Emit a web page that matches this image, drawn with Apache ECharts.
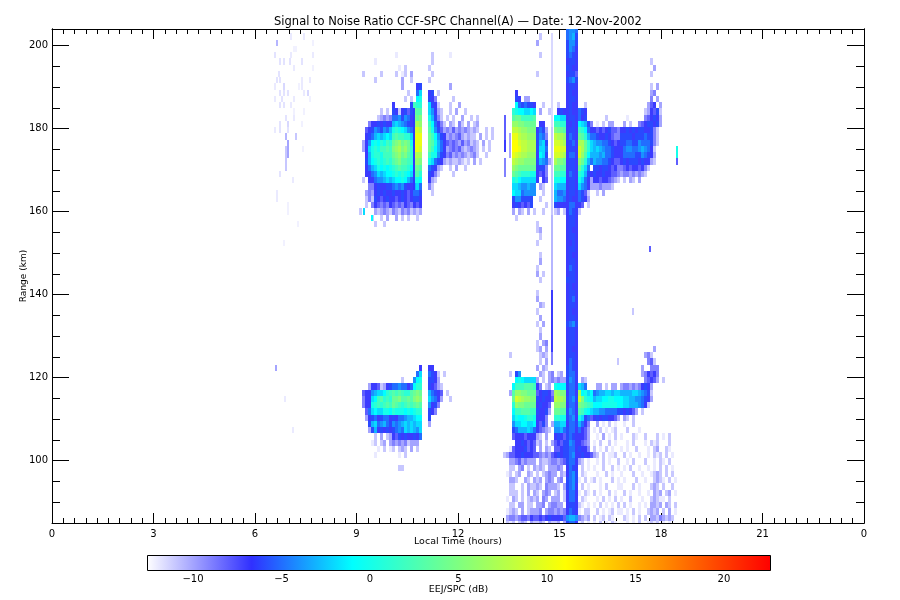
<!DOCTYPE html>
<html><head><meta charset="utf-8">
<script src="https://cdn.jsdelivr.net/npm/echarts@6/dist/echarts.min.js"></script>
<style>html,body{margin:0;padding:0;background:#fff}#c{width:900px;height:600px}</style></head>
<body><div id="c"></div>
<script>
// ---- scales and ticks
const timeTickLabels = ['0','3','6','9','12','15','18','21','0'];
const rangeLabels = [100,120,140,160,180,200];
const rangeMinor = [90,95,105,110,115,125,130,135,145,150,155,165,170,175,185,190,195];
const colorbarLabels = [-10,-5,0,5,10,15,20];
const colorStops = [[-12.6,'#ffffff'],[-6.7,'#3030ff'],[-1,'#00ffff'],[11,'#ffff00'],[16.5,'#ff8c00'],[22.6,'#ff0000']];
const colorbarSpan = [-12.6,22.6];
// ---- level letters (dB)
const levelCodes = 'abcdefghijklmnopqrstuvwxy';
const levelDb = [-12,-11,-10,-9,-8,-7,-6,-5,-4,-3,-2,-1,0,1,2,3,4,5,6,7,8,9,10,11,12];
// ---- grid of the range-time picture
const columnHours = 0.08868;
const gateTopKm = 85.5, gateKm = 1.506;
// ---- morning block: first column hour, segment start columns, rows from the top gate down
const morningStartHour = 8.986;
const morningSegments = [0,5,12,19,22,24,30];
const morningUpperTop = 75;
const morningUpper = [
". . .a . . .b .a",
". .a . . . .b",
". . ..a.b . . b",
"..b ...b .b.ab.c . . .b",
". .b ...c..b . . b . ..b",
". . ...c... .fg . . .c",
". . .....b. .hk . fg.b",
". . ....b.b .lm . gfd ..b",
". . f.....g onn . kgfb .b..c",
". ...b.b. gfbfgeg qpp . kifcb .b.c..b",
". ..bcdcd hhigihf rqr . mjgdb b.b..c..b.b",
"....d ffgfgff jkjihgf sts . olhfdb .cb.db.c.bc",
"...ef gihgihj mnmlkih vvu . pmigec dcecdcdcbcb..b.b",
"...fg hjkjklk opoonnk www . qoligf cdcdecbcbb.c.b.b",
"..cfi lmlnmon qrsqrqm xww . qpmjhf ededcecdbcb.c.b",
"..cfk mnmoopo rstrsqn wwv . qoljhf cdedecbcdcb.b.b",
"...fj mnnmooo qrsqrpn utt . ommigf decdcdcbcdb..b",
"...gj lmnmnon pqrppon ssr . mkhgfc bcbbcbab.c.b",
"...fh jkmlmlm nopoonl qqp . hgfcb .b.c..b",
"...ff hikjkll mnmnmlk ppn . gfdb ..b",
"..b.f fhiijkj kllmljh mml . fcb",
"....d dfgffgg hihigff jkh . db",
"...cd cfgfgff gffgfef hhg . .b",
"...bd bgfefgf fefgfef ggf",
"...b. dfededf ededfed fef",
".b .cbcdcb dcbdcdb cbc",
". b..b.c. .c.b.b .b",
". .b..b"
];
const morningLowerTop = 25;
const morningLower = [
". . . ..f . ff",
". . . .hk . hgfb.b",
". . ...b ilm . ggfc",
"....c ffebcfg hhihhfh lnn . gfecb",
"..eff ijkklno poponnp qrq . jhgfe b",
"..dff klopnon qqrppqp rsr . kihfc .b",
"..dff mnonopo qponopo pqp . ifgd",
"...eh klkkmml nmmmlml mnn . gfd",
"...cf ghfghhf gfhhijj kll . g",
"....g jkhijhg ihijkjk jkk . c",
"....c gjfgfgf ghihkjk jik",
". .b.c.bc fegfgff gfh",
". ab.bc.c dcdcdbc cc.",
". ..a.b.a b.bcb.c .b",
". .a ..a.b",
". . .",
". . ..bb"
];
// ---- afternoon block
const afternoonStartHour = 13.243;
const afternoonSegments = [0,4,12,18,22,26,31,40,54];
const afternoonTop = 79;
const afternoon = [
". . . . hiih",
". . .b . hijg",
". . c . giig",
". . . . gihf",
". . .b . ghgf",
". . . . fggf . . ..........b",
". . . . ggff . . ...........c",
". . b . fgge . . ..........b",
". . . . ghig",
". . . . fggf . . ..........b.c",
". .f . . fgff . . ..........cd",
". .gf.cc . . fggf . . ..........d.c",
". .lhghggf ..b .b fgff ..b . .........cef.c",
". nmllkklk .c..b .fgf fgff hgf . ........bcfegb",
". pqqoooop . llkk fggf hfg ....b ..a.....defgfc",
". ssrrqqqq .ff. oonn ffgf lkjgd .a.b.cc.. .c.b..defggfgc",
". uutssrrr fhgc rqqp fggf onlhf fefefgeed ffgfgfggffgdb",
". wwuttsss gihd utts fhgf qpnjh hgffgfedd ggggfggghggdb",
". xxvuuttt gjkg vvut fghf ttqnk jiihhgfef gghhggihhhgdb",
". xxwuuttt gkkh wwvv fggf vtqnk jkjihhgff fhiihhijihfb",
". wvuttsss flkg vvut fhhf vsplj jjijhhgff fhhhhggihgfc",
". utssrrrr gjihc trrq fggf sqnjh jiihhgfee fgfgggfgffcb",
". srqqqqqq fggd qqpp fggf qnkh. ggfggfefd defeffefdb",
". qponnnmm fefd oonn fhgf nmjgf gffgffeed cddcdcdcb",
". mnlkkkkk f.fe mmll fggf mkhfc ffeffedcb .b.cb.c",
". kkjiijii .cb kjjj fggf kihfc ccdcccb. ..",
". lkkhiiii ..b jhhi fggf hgeb .b.c",
". giigggg. .b jiih fgff hgfc",
". fgfefeg. ...b gfff fhhf fe.b",
". c.cb.c.b ..b bc.b fhgf b",
". .b.. . . fggf",
". . b . fggf",
". . bc . fgff",
". . .b . fggf",
". . b . ffgf",
". . . . fggf",
". . .b . fgff",
". . .c . fggf",
". . b . fhgf",
". . c.b . fggf",
". . .b . gggf",
". . . . fgff",
". . b . fggf",
". . c . fghf",
". . .cb . fggf",
". . b . fgff",
". . .c . fggf",
". . b.c . ghig",
". . .b . fggf",
". . .c . fggf",
". . b.cd . fggf",
". . bc.c . fgff . . ...........c",
"...b . .bcb . fggf . . ........cdb",
". . .b.c . fhgf . . .........deb",
". . c.cb . ghgf . . .......c..ddd",
"...b .gi.. .cb.cd .bc ghhf .. . .......cdfefd",
". .lmlkkkk c.b.cd cdcc gihf .cb . ........defec.b",
". looopppo fd.bc. mlll ghhf kjh.. .cc.b.cc. cddcdcdfgfc",
"...c pssrrqqq efggfd tsrr fhhf tlmkl hijjkkjkk jjjjkkjihgb",
". qvutssrr gfgffe utts ghig vrnml jkkllmmll lkkjjiihgfc",
". nsrrqqqq fgffe. ssrr fhhf rqpon lllmmmmml lkkjjjihfb",
". loopppoo gffgc. qqpp gihf pomlk jjiihhhhg gfgfec.b",
". kmllmnnm fffd.. nnmm ghif mkghe fgfggffec .cb.b",
". ikkllkkl fegd.c jjkk fhhg jhfd. .c.a.b.a. .a..b",
". ghjjjkjh fedcb. iijh ghhf hfec. a.b.a.ab. ..b...a",
". efffefff cb.c.. fgfe ghgf ffec. .a.c.a.b. a...ba..b...b a.b",
". .ffgfefe bc.b.c efeg gihf fedc. a.b..b.a. ..a.b...a.bab ..b",
"...a efffgefe .c.cb. eefg ghhf gffd. b.a.b.a.. a.a..b...a.bc .ba",
".bce effgfffe edcdce fgfg ghif fgffe cb.b.aab. .b.a..a..a.bab .b.a",
"...c cdecdccc .cbbcd dcde ghhf cb.a. .a.b.a..b ..a.b...b..a.b a.b",
"...b b.cd.b.c bcb.cc cdc. fhgf .b.a. a..b..b.a .a.b..a..a.a.b .b.a",
"..ab .bc..cb. b.bcdc c.cb fhig .ba.. .a..b.a.. a...b..a..abcb .b.b",
"...c cb..cb.c bc.cdc .cd. ghig a.b.a b.a...b.a .a...b..a..bcb a.b.a",
"...b b..b.cbb cb.dcc cb.c ghif .b.a. ..a.b...a a...b.a...bcb b..b",
"...b bb.b.c.c b.cdc. bc.b fhhf a.ba. b.a..b.a. .b.a..a..a.cbc .bc.a",
"..a. cb.b.bcb c.dc.c cc.b fhhf .ba.. .a.b.a.b. a..b...a..bcba a.b",
"...b b.cc.bb. ccd.cd dcc. fggf ba.a. a.b.a.a.b .b.a..a.a.ccbc .cb.b",
"..ab cb.c.bcc cd.cdd cdcd fhgf a.bb. .b.a.ab.a a.a.b.a..bcbc b.c.a",
"..cd dcdeedfe efefgf ffge ijji dcbc. b.ab.ba.. .ba.a.b.b.ccbd cbcb",
"..ba b.bcb.cb bcb.cb bc.c ghhf ab.a. a.b.a.ba. ..a.a.b..abab a.a"
];
// ---- thin streaks: [hour, dB, lowest gate, highest gate]
const streakPixels = 2/33.83;
const fineStreaks = [
[6.62,-10.5,77,77],[7.02,-12,78,78],[7.43,-12,78,78],[7.68,-12.2,77,77],[7.11,-12.2,76,76],[7.19,-12.2,76,76],
[6.56,-11.8,75,75],[7.02,-12,75,75],[7.68,-12,75,75],[6.72,-11.8,74,74],[6.82,-11.8,74,74],[7.0,-11.8,74,74],[7.36,-11.8,74,74],
[7.11,-12,73,73],[7.68,-12.2,73,73],[6.67,-11.8,72,72],[6.62,-11.8,71,71],[6.72,-11.8,71,71],[7.36,-12,71,71],[7.61,-12,71,71],
[6.82,-11.5,70,70],[6.56,-12,70,70],[7.27,-12.2,70,70],[7.36,-12,70,70],[6.72,-11.8,69,69],[6.82,-11.8,69,69],[6.96,-11.8,69,69],
[7.43,-12,69,69],[7.53,-11.5,69,69],[6.56,-12,68,68],[6.78,-11.8,68,68],[7.11,-12,68,68],[6.72,-11.8,67,67],[6.82,-11.8,67,67],
[7.02,-12,67,67],[7.11,-12.2,66,66],[7.43,-12.2,66,66],[6.89,-11.8,65,65],[7.11,-12,65,65],[6.72,-11.8,64,64],[6.96,-11.5,64,64],
[7.36,-12.2,64,64],[6.56,-12,63,63],[6.72,-11.8,63,63],[6.96,-11.8,63,63],[6.89,-10.5,62,62],[7.19,-11,62,62],[6.96,-10,59,61],
[6.89,-11,57,60],[6.72,-11.8,56,56],[7.1,-12,55,55],[6.62,-12,52,53],[6.96,-12.2,50,51],[7.25,-12.2,48,48],[6.82,-12.2,45,45],
[6.6,-10,25,25],[6.85,-12,20,20],[7.09,-12,15,15],[7.38,-12.2,60,60],[7.6,-12.2,68,68],
[10.66,-6.5,54,66],[9.2,-2,50,50],[9.42,-1,49,49],
[13.36,-8,62,65],[13.36,-7,60,61],[13.36,-9,56,58],[13.52,-10,59,62],
[14.75,-11.5,64,78],[14.75,-11,50,63],[14.75,-10.5,38,49],[14.75,-7,28,37],[14.75,-9,26,27],
[18.43,0,59,60],[18.43,-8,58,58],[17.65,-8,44,44],[17.15,-11,34,34],[16.7,-11,26,26]
];

// ---- build cells from the lists above
function levelOf(ch){ const i = levelCodes.indexOf(ch); return i < 0 ? null : levelDb[i]; }
function gateSpan(g){ return [gateTopKm + gateKm*g - gateKm, gateTopKm + gateKm*g]; }
const cells = [];
function addRows(rows, topGate, startHour, segments){
  rows.forEach((row, idx) => {
    const gate = topGate - idx;
    const sp = gateSpan(gate);
    row.split(' ').forEach((seg, i) => {
      for (let j = 0; j < seg.length; j++){
        const v = levelOf(seg[j]);
        if (v === null) continue;
        const t0 = startHour + (segments[i] + j)*columnHours;
        cells.push([t0, t0 + columnHours, sp[0], sp[1], v]);
      }
    });
  });
}
addRows(morningUpper, morningUpperTop, morningStartHour, morningSegments);
addRows(morningLower, morningLowerTop, morningStartHour, morningSegments);
addRows(afternoon, afternoonTop, afternoonStartHour, afternoonSegments);
fineStreaks.forEach(s => {
  for (let g = s[2]; g <= s[3]; g++){
    const sp = gateSpan(g);
    cells.push([s[0], s[0] + streakPixels, sp[0], sp[1], s[1]]);
  }
});

function hex(c){ return [1,3,5].map(i => parseInt(c.substr(i,2),16)); }
function colorOf(db){
  for (let i = 0; i < colorStops.length-1; i++){
    const a = colorStops[i], b = colorStops[i+1];
    if (db <= b[0]){
      const f = Math.max(0,(db-a[0])/(b[0]-a[0]));
      const ca = hex(a[1]), cb = hex(b[1]);
      return 'rgb(' + ca.map((v,k)=>Math.round(v+(cb[k]-v)*f)).join(',') + ')';
    }
  }
  return colorStops[colorStops.length-1][1];
}
const chart = echarts.init(document.getElementById('c'), null, {renderer:'canvas'});
const font = {fontFamily:'DejaVu Sans', fontSize:10, color:'#000'};
const nameFont = {fontFamily:'DejaVu Sans', fontSize:9.5, color:'#000'};
const line = {show:true, onZero:false, lineStyle:{color:'#000', width:1}};
const tickStyle = {color:'#000', width:1};
function xAxis(pos, labels){
  return {type:'value', gridIndex:0, position:pos, min:0, max:24, interval:3,
    axisLine:line, splitLine:{show:false},
    axisTick:{show:true, inside:true, length:10, lineStyle:tickStyle},
    minorTick:{show:true, splitNumber:9, length:5, lineStyle:tickStyle},
    axisLabel: labels ? Object.assign({show:true, margin:6, formatter:v => timeTickLabels[v/3]}, font) : {show:false},
    name: labels ? 'Local Time (hours)' : '', nameLocation:'middle', nameGap:14, nameMoveOverlap:false, nameTextStyle:nameFont};
}
function yAxis(pos, values, len, labels){
  return {type:'value', gridIndex:0, position:pos, min:85, max:204,
    axisLine:line, splitLine:{show:false},
    axisTick:{show:true, inside:true, length:len, customValues:values, lineStyle:tickStyle},
    axisLabel: labels ? Object.assign({show:true, margin:4, customValues:values}, font) : {show:false},
    name: labels ? 'Range (km)' : '', nameLocation:'middle', nameGap:24, nameRotate:90, nameMoveOverlap:false,
    nameTextStyle:{fontFamily:'DejaVu Sans', fontSize:9, color:'#000'}};
}
chart.setOption({
  animation:false, backgroundColor:'#fff',
  title:{text:'Signal to Noise Ratio CCF-SPC Channel(A) \u2014 Date: 12-Nov-2002', left:453, top:11, textAlign:'center',
    textStyle:{fontFamily:'DejaVu Sans', fontSize:11.5, fontWeight:'normal', color:'#000'}},
  grid:[{left:52, right:36, top:29, bottom:77, containLabel:false},
        {left:147, width:623, top:555, height:15}],
  xAxis:[xAxis('bottom',true), xAxis('top',false),
    {type:'value', gridIndex:1, min:colorbarSpan[0], max:colorbarSpan[1], position:'bottom',
     axisLine:{show:false}, axisTick:{show:false}, splitLine:{show:false},
     axisLabel:Object.assign({show:true, margin:4, customValues:colorbarLabels, formatter:v => String(v).replace('-','\u2212')}, font),
     name:'EEJ/SPC (dB)', nameLocation:'middle', nameGap:15, nameTextStyle:nameFont}],
  yAxis:[yAxis('left',rangeLabels,17,true), yAxis('left',rangeMinor,8,false),
         yAxis('right',rangeLabels,17,false), yAxis('right',rangeMinor,8,false),
         {type:'value', gridIndex:1, min:0, max:1, show:false}],
  series:[
    {type:'custom', xAxisIndex:0, yAxisIndex:0, coordinateSystem:'cartesian2d', clip:true, silent:true,
     progressive:0, encode:{x:[0,1], y:[2,3]}, data:cells,
     renderItem:(params, api) => {
       const p0 = api.coord([api.value(0), api.value(3)]);
       const p1 = api.coord([api.value(1), api.value(2)]);
       const x = Math.round(p0[0]), y = Math.round(p0[1]);
       return {type:'rect', shape:{x, y, width:Math.max(1,Math.round(p1[0])-x), height:Math.max(1,Math.round(p1[1])-y)},
         style:{fill:colorOf(api.value(4)), stroke:null}};
     }},
    {type:'custom', xAxisIndex:2, yAxisIndex:4, coordinateSystem:'cartesian2d', silent:true,
     data:[[colorbarSpan[0], colorbarSpan[1], 0, 1]], encode:{x:[0,1], y:[2,3]},
     renderItem:(params, api) => {
       const p0 = api.coord([api.value(0), api.value(3)]);
       const p1 = api.coord([api.value(1), api.value(2)]);
       const span = colorbarSpan[1]-colorbarSpan[0];
       return {type:'rect', shape:{x:p0[0]+0.5, y:p0[1]+0.5, width:p1[0]-p0[0], height:p1[1]-p0[1]},
         style:{stroke:'#000', lineWidth:1, fill:new echarts.graphic.LinearGradient(0,0,1,0,
           colorStops.map(s => ({offset:(s[0]-colorbarSpan[0])/span, color:s[1]})))}};
     }}
  ]
});
</script></body></html>
